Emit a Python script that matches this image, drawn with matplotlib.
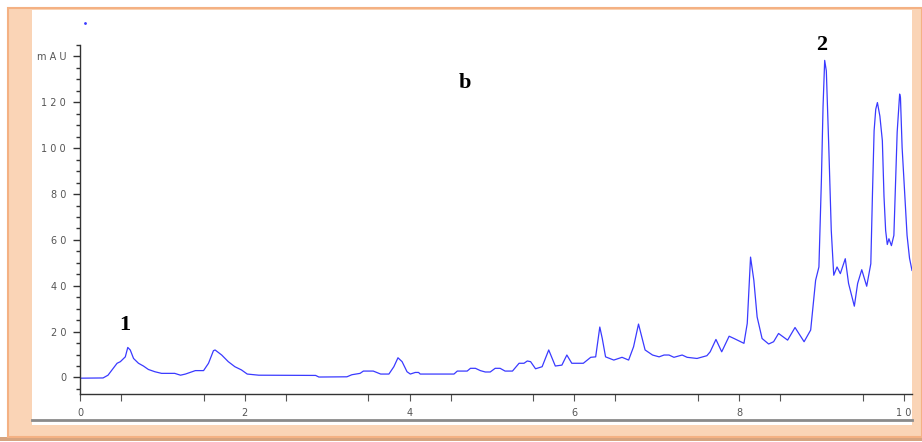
import matplotlib.pyplot as plt
from matplotlib.patches import Rectangle
from matplotlib.lines import Line2D

# chromatogram trace (time in min, absorbance in mAU)
t = [0, 0.28, 0.34, 0.45, 0.49, 0.55, 0.58, 0.61, 0.65, 0.71, 0.77, 0.83, 0.91,
     0.99, 1.15, 1.22, 1.28, 1.40, 1.50, 1.56, 1.62, 1.64, 1.72, 1.80, 1.88,
     1.96, 2.03, 2.17, 2.86, 2.90, 3.24, 3.30, 3.40, 3.44, 3.56, 3.65, 3.75,
     3.81, 3.86, 3.91, 3.97, 4.01, 4.07, 4.11, 4.13, 4.54, 4.58, 4.70, 4.74,
     4.80, 4.86, 4.92, 4.98, 5.04, 5.10, 5.16, 5.25, 5.33, 5.39, 5.43, 5.47,
     5.53, 5.61, 5.69, 5.77, 5.85, 5.91, 5.97, 6.11, 6.20, 6.26, 6.31, 6.34,
     6.38, 6.48, 6.58, 6.66, 6.72, 6.78, 6.82, 6.86, 6.95, 7.03, 7.09, 7.15,
     7.21, 7.31, 7.37, 7.49, 7.61, 7.65, 7.72, 7.79, 7.88, 7.94, 8.06, 8.10,
     8.14, 8.18, 8.22, 8.28, 8.36, 8.42, 8.48, 8.59, 8.68, 8.79, 8.87, 8.93,
     8.97, 9.00, 9.02, 9.04, 9.06, 9.09, 9.12, 9.15, 9.19, 9.23, 9.29, 9.33,
     9.40, 9.44, 9.49, 9.55, 9.60, 9.62, 9.64, 9.66, 9.68, 9.71, 9.74, 9.76,
     9.78, 9.80, 9.82, 9.85, 9.88, 9.90, 9.92, 9.95, 9.96, 9.98, 10.01, 10.04,
     10.07, 10.10]
mau = [-0.3, -0.2, 1, 6.2, 6.9, 9, 13.1, 12, 8.3, 6.2, 5, 3.5, 2.5,
       1.8, 1.8, 1.0, 1.5, 3, 3, 6.2, 11.7, 12, 9.8, 6.9, 4.7,
       3.3, 1.5, 1.0, 0.9, 0.2, 0.3, 1.2, 1.8, 2.8, 2.8, 1.5, 1.5,
       4.7, 8.6, 6.9, 2.5, 1.5, 2.2, 2.2, 1.5, 1.5, 2.8, 2.8, 4,
       4, 3, 2.4, 2.4, 4, 4, 2.8, 2.8, 6.2, 6.2, 7.2, 6.9,
       3.8, 4.7, 12, 5, 5.4, 9.8, 6.2, 6.2, 8.8, 9, 22, 17,
       9, 7.6, 8.8, 7.6, 13.4, 23.3, 17.7, 12, 9.8, 9, 9.8, 9.8,
       8.8, 9.8, 8.8, 8.3, 9.5, 11.2, 16.6, 11.2, 18, 17, 14.9, 23.6,
       52.5, 42.4, 26.4, 17, 14.6, 15.6, 19.2, 16.3, 21.8, 15.6, 20.7, 42.4,
       48.2, 85.9, 118, 138.3, 133.7, 100.3, 64.1, 44.6, 48.2, 45.3, 51.8, 41,
       31.1, 41, 47, 39.8, 49.6, 80, 107.6, 117, 119.9, 114, 103.3, 79,
       64.1, 58, 60.5, 57.5, 62, 84.4, 107, 123.6, 122, 100.3, 81, 62,
       52, 46.7]

yticks = [0, 20, 40, 60, 80, 100, 120, 140]
ylabels = ['0', '2 0', '4 0', '6 0', '8 0', '1 0 0', '1 2 0', 'm A U']
xticks = [0, 2, 4, 6, 8, 10]
xlabels = ['0', '2', '4', '6', '8', '1 0']

W, H = 922, 442
fig = plt.figure(figsize=(W / 100, H / 100), dpi=100, facecolor='white')


def box(x0, y0, x1, y1, **kw):
    # pixel box (top-left origin) -> figure fraction
    return Rectangle((x0 / W, 1 - y1 / H), (x1 - x0) / W, (y1 - y0) / H,
                     transform=fig.transFigure, zorder=-10, **kw)


# peach picture frame
fig.patches.append(box(0, 437, 922, 441, facecolor='#d6a47f', edgecolor='none'))
fig.patches.append(box(8, 8, 922, 437, facecolor='#fad4b6', edgecolor='#f4b183',
                       linewidth=1.5))
fig.patches.append(box(32, 10, 912, 425, facecolor='white', edgecolor='none'))
fig.lines.append(Line2D([32 / W, 912 / W], [1 - 420 / H, 1 - 420 / H],
                        transform=fig.transFigure, color='#8a8a8a', linewidth=2,
                        zorder=-9))

ax = fig.add_axes([80 / W, 1 - 394 / H, 832 / W, 349 / H])
ax.set_zorder(5)
ax.set_facecolor('none')
ax.plot(t, mau, color='#3a3aff', linewidth=0.9)
ax.plot([0.06], [154.6], marker='.', markersize=2, color='#3a3aff', clip_on=False)

ax.set_xlim(0, 10.1)
ax.set_ylim(-7.2, 145)

ax.spines['top'].set_visible(False)
ax.spines['right'].set_visible(False)
for s in ('left', 'bottom'):
    ax.spines[s].set_color('#333333')
    ax.spines[s].set_linewidth(1.0)

ax.set_yticks(yticks, ylabels)
ax.set_yticks([v for v in range(-5, 146, 5) if v % 20 != 0], minor=True)
ax.set_xticks(xticks, xlabels)
ax.set_xticks([v / 2 for v in range(1, 20, 2)], minor=True)

ax.tick_params(axis='y', which='major', length=5, width=1, color='#333333',
               labelsize=7, labelcolor='#555555', pad=5)
ax.tick_params(axis='y', which='minor', length=3, width=1, color='#333333')
ax.tick_params(axis='x', which='both', length=5, width=0.8, color='#555555',
               labelsize=7, labelcolor='#555555', pad=5)

lab = dict(fontsize=16, fontweight='bold', family='Liberation Serif',
           ha='center', va='center', color='black')
ax.text(0.55, 22.8, '1', **lab)
ax.text(9.0, 145, '2', clip_on=False, **lab)
ax.text(4.67, 128.5, 'b', **lab)

fig.savefig('out.png', dpi=100, facecolor=fig.get_facecolor())
